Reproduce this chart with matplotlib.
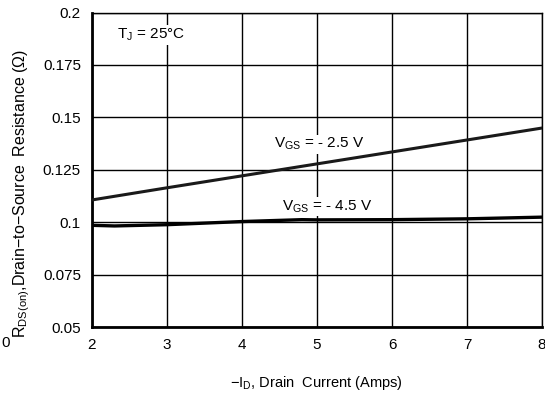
import matplotlib
matplotlib.use("Agg")
import matplotlib.pyplot as plt

plt.rcParams['font.family'] = ['Liberation Sans', 'DejaVu Sans']
plt.rcParams['mathtext.fontset'] = 'custom'
plt.rcParams['mathtext.rm'] = 'Liberation Sans'
plt.rcParams['mathtext.it'] = 'Liberation Sans'

# Drain current (A) and on-resistance (ohm) for two gate voltages
id_vgs25 = [2, 3, 4, 5, 6, 7, 8]
rds_vgs25 = [0.1106, 0.1164, 0.1221, 0.1278, 0.1335, 0.1392, 0.1449]

id_vgs45 = [2.0, 2.3, 3.0, 4.0, 4.8, 5.0, 6.0, 7.0, 8.0]
rds_vgs45 = [0.0985, 0.0982, 0.0988, 0.1003, 0.1012, 0.1011, 0.1012, 0.1016, 0.1024]

x_ticks = [2, 3, 4, 5, 6, 7, 8]
y_ticks = [0.05, 0.075, 0.1, 0.125, 0.15, 0.175, 0.2]
y_tick_labels = ['0.05', '0.075', '0.1', '0.125', '0.15', '0.175', '0.2']

fig = plt.figure(figsize=(5.45, 3.97), dpi=100)
ax = fig.add_axes([0.1688, 0.1763, 0.8257, 0.7922])

ax.plot(id_vgs25, rds_vgs25, color='#1a1a1a', lw=2.2, zorder=3)
ax.plot(id_vgs45, rds_vgs45, color='black', lw=2.4, zorder=3)

ax.set_xlim(2, 8)
ax.set_ylim(0.05, 0.2)
ax.set_xticks(x_ticks)
ax.set_yticks(y_ticks)
ax.set_yticklabels(y_tick_labels)
ax.grid(True, color='black', lw=1.0)
ax.set_axisbelow(True)
ax.tick_params(length=0, labelsize=11, pad=8)
for side in ('top', 'right'):
    ax.spines[side].set_linewidth(1.0)
for side in ('left', 'bottom'):
    ax.spines[side].set_linewidth(2.0)

label_box = dict(facecolor='white', edgecolor='none', pad=1)
ax.text(2.34, 0.1893, r'T$_{\rm J}$ = 25°C', fontsize=11, va='center', ha='left',
        bbox=label_box, zorder=4)
ax.text(5.03, 0.1372, r'V$_{\rm GS}$ = - 2.5 V', fontsize=11, va='center', ha='center',
        bbox=label_box, zorder=4)
ax.text(5.14, 0.1075, r'V$_{\rm GS}$ = - 4.5 V', fontsize=11, va='center', ha='center',
        bbox=label_box, zorder=4)

fig.text(0.039, 0.512, r'R$_{\rm DS(on)}$,Drain−to−Source  Resistance (Ω)',
         rotation=90, fontsize=11.5, ha='center', va='center')
fig.text(0.58, 0.035, r'−I$_{\rm D}$, Drain  Current (Amps)', fontsize=10.5,
         ha='center', va='center')
fig.text(0.002, 0.135, '0', fontsize=11, ha='left', va='center')

fig.savefig('out.png', dpi=100)
